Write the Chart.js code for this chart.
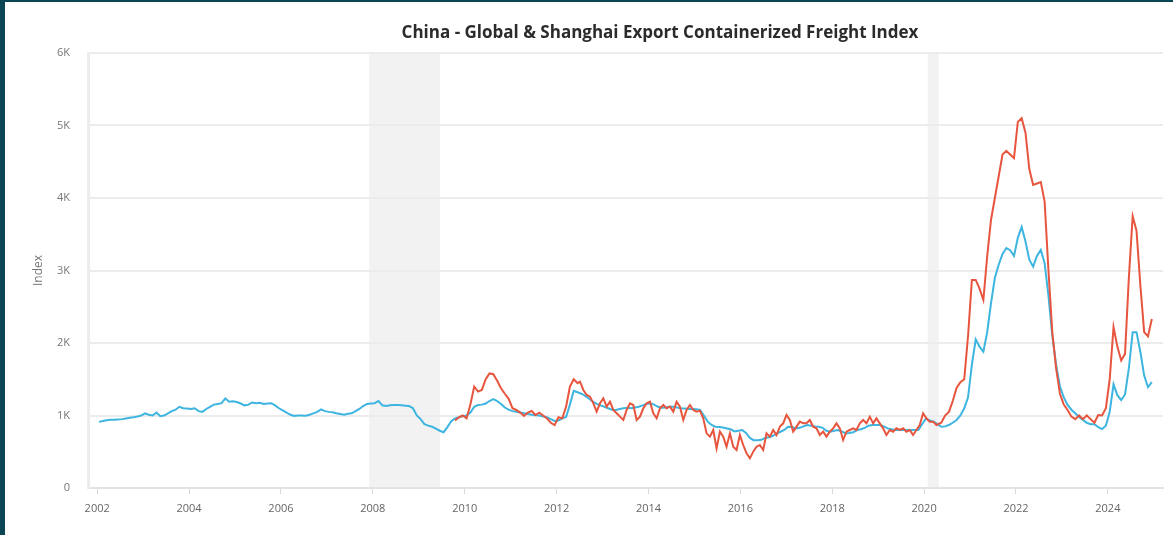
<!DOCTYPE html>
<html>
<head>
<meta charset="utf-8">
<script src="https://cdn.jsdelivr.net/npm/chart.js@4.4.1/dist/chart.umd.min.js"></script>
<style>
  html, body { margin: 0; padding: 0; background: #0c4655; width: 1173px; height: 535px; overflow: hidden; }
  #panel { position: absolute; left: 5px; top: 2px; width: 1168px; height: 533px; background: #ffffff; }
  canvas { display: block; }
</style>
</head>
<body>
<div id="panel"><canvas id="c" width="1168" height="533"></canvas></div>
<script>
// ---- DATA ----
const chartTitle = 'China - Global & Shanghai Export Containerized Freight Index';
const yAxisTitle = 'Index';
const xTickYears = [2002, 2004, 2006, 2008, 2010, 2012, 2014, 2016, 2018, 2020, 2022, 2024];
const yTickValues = [0, 1000, 2000, 3000, 4000, 5000, 6000];
const yTickLabels = ['0', '1K', '2K', '3K', '4K', '5K', '6K'];

// Recession periods (decimal years)
const recessionStart = [2007.92, 2020.08];
const recessionEnd   = [2009.46, 2020.32];

// Global (CCFI) – monthly, starting Jan 2002
const globalStart = { year: 2002, month: 1 };
const globalValues = [
  912,925,935,940,940,945,950,960,970,975,985,1000,
  1030,1010,1000,1040,990,1000,1030,1060,1080,1120,1100,1095,
  1090,1100,1060,1050,1090,1120,1150,1160,1170,1235,1190,1195,
  1185,1165,1140,1150,1180,1170,1175,1160,1165,1170,1140,1100,
  1070,1040,1010,995,1000,1000,998,1010,1030,1050,1085,1060,
  1050,1045,1030,1020,1010,1025,1030,1060,1090,1130,1160,1165,
  1170,1200,1140,1130,1140,1145,1145,1140,1135,1130,1100,1000,
  950,880,860,845,820,790,770,840,920,960,975,990,
  1000,1040,1120,1145,1150,1165,1200,1225,1200,1160,1110,1080,
  1060,1050,1040,1030,1020,1010,1005,1000,985,975,950,925,
  930,960,980,1150,1340,1320,1300,1270,1230,1190,1160,1140,
  1120,1100,1080,1076,1090,1100,1108,1100,1110,1120,1140,1160,
  1168,1150,1120,1108,1110,1120,1122,1110,1100,1095,1090,1090,
  1085,1076,1000,915,870,845,840,835,822,810,780,790,
  800,760,690,660,660,665,690,700,720,750,776,800,
  845,840,822,830,850,868,860,850,845,830,790,776,
  790,799,780,753,760,770,799,810,830,860,868,870,
  868,850,822,810,800,799,800,799,800,799,800,880,
  960,930,915,880,845,850,868,900,938,1000,1100,1250,
  1700,2050,1950,1880,2150,2550,2900,3080,3230,3310,3280,3200,
  3450,3600,3400,3150,3053,3200,3283,3100,2650,2100,1700,1400,
  1250,1145,1080,1030,980,940,900,880,880,840,813,860,
  1050,1430,1280,1214,1290,1650,2150,2150,1880,1550,1390,1460
];

// Shanghai (SCFI) – part 1: monthly, Oct 2009 – Jun 2012
const shanghaiStart1 = { year: 2009, month: 10 };
const shanghaiValues1 = [
  930,975,1000,
  960,1150,1400,1330,1353,1500,1580,1570,1480,1376,1300,1230,
  1100,1076,1040,993,1040,1062,1007,1040,1000,960,900,868,
  975,960,1122,1400,1500,1446
];
// Shanghai (SCFI) – part 2: dense readings, mid-2012 – early 2020
const shanghaiDenseStartYear = 2012.51;
const shanghaiDenseStepYears = 0.0725;
const shanghaiValues2 = [
  1467,1352,1283,1260,1168,1053,1168,1237,1122,1191,1076,1030,984,938,1076,1168,1145,938,
  984,1099,1168,1191,1030,961,1099,1145,1099,1122,1053,1191,1122,938,1076,1145,1076,1053,
  1067,961,754,708,800,547,777,708,570,754,570,524,731,593,478,409,501,570,
  593,524,754,708,800,731,846,892,1007,938,777,846,915,892,892,938,846,823,
  731,777,708,777,823,892,823,662,777,800,823,800,892,938,892,984,892,961,
  892,823,731,800,777,823,800,823,777,800,731,800,869,1030,961,915,915,869
];
// Shanghai (SCFI) – part 3: monthly, May 2020 – Dec 2024
const shanghaiStart3 = { year: 2020, month: 5 };
const shanghaiValues3 = [
  900,1000,1050,1200,1380,1460,1500,2100,
  2870,2870,2750,2593,3200,3700,4000,4300,4600,4650,4600,4550,
  5050,5100,4900,4400,4180,4200,4220,3950,3000,2150,1650,1300,
  1150,1076,984,950,1000,950,1000,950,900,1007,1000,1100,
  1500,2220,1950,1760,1850,2900,3750,3550,2800,2150,2090,2330
];

// ---- BUILD ----
function monthlyPoints(start, vals) {
  return vals.map((v, i) => {
    const m = start.month - 1 + i;
    return { x: start.year + m / 12 + 0.04, y: v };
  });
}
function densePoints(startYear, step, vals) {
  return vals.map((v, i) => ({ x: startYear + i * step, y: v }));
}

const shanghaiPoints = [].concat(
  monthlyPoints(shanghaiStart1, shanghaiValues1),
  densePoints(shanghaiDenseStartYear, shanghaiDenseStepYears, shanghaiValues2),
  monthlyPoints(shanghaiStart3, shanghaiValues3)
);

const FONT = "'Open Sans', 'Noto Sans', sans-serif";

const backgroundPlugin = {
  id: 'recessions',
  beforeDraw(chart) {
    const { ctx, chartArea, scales } = chart;
    ctx.save();
    ctx.fillStyle = '#f2f2f2';
    for (let i = 0; i < recessionStart.length; i++) {
      const x0 = scales.x.getPixelForValue(recessionStart[i]);
      const x1 = scales.x.getPixelForValue(recessionEnd[i]);
      ctx.fillRect(x0, chartArea.top, x1 - x0, chartArea.bottom - chartArea.top);
    }
    ctx.restore();
  }
};

const titlePlugin = {
  id: 'customTitle',
  afterDraw(chart) {
    const { ctx } = chart;
    ctx.save();
    ctx.font = "bold 17px " + FONT;
    ctx.fillStyle = '#2b2b2b';
    ctx.textAlign = 'center';
    ctx.textBaseline = 'middle';
    ctx.fillText(chartTitle, 655, 31);
    ctx.restore();
  }
};

new Chart(document.getElementById('c'), {
  type: 'line',
  data: {
    datasets: [
      {
        label: 'Shanghai',
        data: shanghaiPoints,
        borderColor: '#e8553e',
        borderWidth: 2,
        pointRadius: 0,
        tension: 0,
        fill: false
      },
      {
        label: 'Global',
        data: monthlyPoints(globalStart, globalValues),
        borderColor: '#3db5e0',
        borderWidth: 2,
        pointRadius: 0,
        tension: 0,
        fill: false
      }
    ]
  },
  options: {
    responsive: false,
    animation: false,
    devicePixelRatio: 1,
    layout: { padding: { left: 0, right: 10, top: 51, bottom: 0 } },
    plugins: {
      legend: { display: false },
      title: { display: false },
      tooltip: { enabled: false }
    },
    scales: {
      x: {
        type: 'linear',
        min: 2001.8,
        max: 2025.2,
        afterBuildTicks(scale) { scale.ticks = xTickYears.map(v => ({ value: v })); },
        afterFit(scale) { scale.height = 47; },
        ticks: {
          color: '#666666',
          font: { family: FONT, size: 11 },
          padding: 8,
          maxRotation: 0,
          autoSkip: false,
          callback: (v) => String(v)
        },
        grid: { drawOnChartArea: false, drawTicks: true, tickLength: 6, color: '#d9d9d9', lineWidth: 1 },
        border: { display: true, color: '#e3e3e3', width: 2 }
      },
      y: {
        type: 'linear',
        min: 0,
        max: 6000,
        afterBuildTicks(scale) { scale.ticks = yTickValues.map(v => ({ value: v })); },
        afterFit(scale) { scale.width = 83; },
        ticks: {
          color: '#777777',
          font: { family: FONT, size: 11 },
          padding: 18,
          callback: (v) => yTickLabels[yTickValues.indexOf(v)]
        },
        grid: { drawTicks: false, color: '#ececec', lineWidth: 2 },
        border: { display: true, color: '#ececec', width: 3 },
        title: {
          display: true,
          text: yAxisTitle,
          color: '#777777',
          font: { family: FONT, size: 12 },
          padding: { top: 26, bottom: 0 }
        }
      }
    }
  },
  plugins: [backgroundPlugin, titlePlugin]
});
</script>
</body>
</html>
